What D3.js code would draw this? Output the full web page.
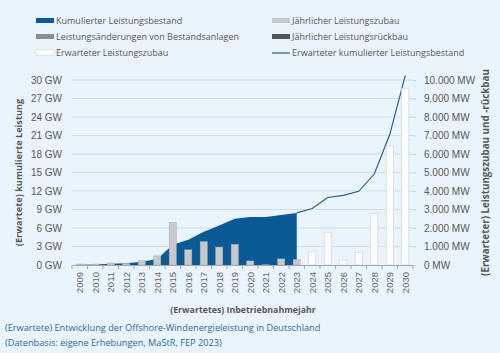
<!DOCTYPE html>
<html>
<head>
<meta charset="utf-8">
<script src="https://cdn.jsdelivr.net/npm/d3@7"></script>
<style>
  body { margin: 0; background: #e9f4fc; }
  svg { display: block; font-family: "Open Sans", "Noto Sans", sans-serif; }
</style>
</head>
<body>
<svg class="svg"></svg>
<script>
// years on the x axis
const years = d3.range(2009, 2031).map(String);

// cumulative stock (GW), 2009..2023
const cumulative = [0.03, 0.08, 0.19, 0.28, 0.52, 0.99, 3.28, 4.1, 5.4, 6.4, 7.5, 7.77, 7.8, 8.1, 8.45];
// expected cumulative stock (GW), 2023..2030
const expectedYears = ["2023", "2024", "2025", "2026", "2027", "2028", "2029", "2030"];
const expectedCumulative = [8.45, 9.15, 10.95, 11.3, 11.95, 14.75, 21.15, 30.7];

// yearly additions (MW), 2009..2023
const annualAdd = [50, 50, 110, 80, 230, 490, 2300, 820, 1260, 970, 1120, 220, 10, 330, 290];
// expected yearly additions (MW), 2024..2030
const expectedAdd = [720, 1770, 270, 670, 2790, 6430, 9550];

const leftTicks = d3.range(0, 31, 3);
const rightTicks = d3.range(0, 10001, 1000);

const width = 500, height = 353;
const margin = { top: 80, right: 87, bottom: 88, left: 72 };

const svg = d3.select(".svg").attr("width", width).attr("height", height);

const x = d3.scaleBand().domain(years).range([margin.left, width - margin.right]).paddingInner(0).paddingOuter(0);
const yL = d3.scaleLinear().domain([0, 30]).range([height - margin.bottom, margin.top]);
const yR = d3.scaleLinear().domain([0, 10000]).range([height - margin.bottom, margin.top]);

const fmtMW = d => d3.format(",")(d).replace(/,/g, ".") + " MW";

// gridlines
svg.append("g")
  .selectAll("line")
  .data(leftTicks.slice(1))
  .join("line")
  .attr("x1", margin.left).attr("x2", width - margin.right)
  .attr("y1", d => yL(d)).attr("y2", d => yL(d))
  .attr("stroke", "#d4dde4").attr("stroke-width", 1);

// cumulative area
const histYears = years.slice(0, cumulative.length);
const area = d3.area()
  .x((d, i) => x(histYears[i]) + x.bandwidth() / 2)
  .y0(yL(0))
  .y1(d => yL(d));
svg.append("path")
  .datum(cumulative)
  .attr("d", area)
  .attr("fill", "#0b5a96");

// expected cumulative line
const line = d3.line()
  .x((d, i) => x(expectedYears[i]) + x.bandwidth() / 2)
  .y(d => yL(d));
svg.append("path")
  .datum(expectedCumulative)
  .attr("d", line)
  .attr("fill", "none")
  .attr("stroke", "#2b5f8e")
  .attr("stroke-width", 1.2);

const barW = x.bandwidth() * 0.46;

// yearly additions
svg.append("g")
  .selectAll("rect")
  .data(annualAdd)
  .join("rect")
  .attr("x", (d, i) => x(years[i]) + (x.bandwidth() - barW) / 2)
  .attr("width", barW)
  .attr("y", d => yR(d))
  .attr("height", d => yR(0) - yR(d))
  .attr("fill", "#c7c9cb")
  .attr("stroke", "#a9abad")
  .attr("stroke-width", 0.5);

// expected additions
const expYears = years.slice(annualAdd.length);
svg.append("g")
  .selectAll("rect")
  .data(expectedAdd)
  .join("rect")
  .attr("x", (d, i) => x(expYears[i]) + (x.bandwidth() - barW) / 2)
  .attr("width", barW)
  .attr("y", d => yR(d))
  .attr("height", d => yR(0) - yR(d))
  .attr("fill", "#ffffff")
  .attr("stroke", "#d0d4d8")
  .attr("stroke-width", 0.7);

// x axis
const xAxis = svg.append("g")
  .attr("transform", `translate(0,${yL(0)})`)
  .call(d3.axisBottom(x).tickSize(0).tickPadding(0));
xAxis.select(".domain").attr("stroke", "#a0a8b0");
xAxis.selectAll("text")
  .attr("transform", "rotate(-90)")
  .attr("text-anchor", "end")
  .attr("x", -7).attr("y", 0).attr("dy", "0.35em")
  .attr("fill", "#666").style("font-size", "9.5px");
svg.append("g")
  .selectAll("line")
  .data(years.concat(["end"]))
  .join("line")
  .attr("x1", (d, i) => margin.left + i * x.bandwidth())
  .attr("x2", (d, i) => margin.left + i * x.bandwidth())
  .attr("y1", yL(0)).attr("y2", yL(0) + 4)
  .attr("stroke", "#a0a8b0");

// left axis
const lAxis = svg.append("g")
  .attr("transform", `translate(${margin.left},0)`)
  .call(d3.axisLeft(yL).tickValues(leftTicks).tickSize(0).tickPadding(10).tickFormat(d => d + " GW"));
lAxis.select(".domain").remove();
lAxis.selectAll("text").attr("fill", "#595959").style("font-size", "10px");

// right axis
const rAxis = svg.append("g")
  .attr("transform", `translate(${width - margin.right},0)`)
  .call(d3.axisRight(yR).tickValues(rightTicks).tickSize(3).tickPadding(8).tickFormat(fmtMW));
rAxis.select(".domain").remove();
rAxis.selectAll("line").attr("stroke", "#c8d0d8");
rAxis.selectAll("text").attr("fill", "#595959").style("font-size", "10px");

// axis titles
svg.append("text")
  .attr("transform", `translate(22,${(yL(0) + yL(30)) / 2}) rotate(-90)`)
  .attr("text-anchor", "middle")
  .attr("fill", "#595959").style("font-size", "9.2px").style("font-weight", "bold")
  .text("(Erwartete) kumulierte Leistung");
svg.append("text")
  .attr("transform", `translate(489,${(yL(0) + yL(30)) / 2}) rotate(-90)`)
  .attr("text-anchor", "middle")
  .attr("fill", "#595959").style("font-size", "9.8px").style("font-weight", "bold")
  .text("(Erwarteter) Leistungszubau und -rückbau");
svg.append("text")
  .attr("x", 243).attr("y", 313)
  .attr("text-anchor", "middle")
  .attr("fill", "#595959").style("font-size", "8.8px").style("font-weight", "bold")
  .text("(Erwartetes) Inbetriebnahmejahr");

// legend
const legend = [
  { label: "Kumulierter Leistungsbestand", type: "rect", fill: "#0b5a96", stroke: "none", col: 0, row: 0 },
  { label: "Jährlicher Leistungszubau", type: "rect", fill: "#c7c9cb", stroke: "none", col: 1, row: 0 },
  { label: "Leistungsänderungen von Bestandsanlagen", type: "rect", fill: "#8c8f92", stroke: "none", col: 0, row: 1 },
  { label: "Jährlicher Leistungsrückbau", type: "rect", fill: "#55585b", stroke: "none", col: 1, row: 1 },
  { label: "Erwarteter Leistungszubau", type: "rect", fill: "#ffffff", stroke: "#d0d4d8", col: 0, row: 2 },
  { label: "Erwarteter kumulierter Leistungsbestand", type: "line", fill: "none", stroke: "#2b5f8e", col: 1, row: 2 }
];
const lg = svg.append("g")
  .selectAll("g")
  .data(legend)
  .join("g")
  .attr("transform", d => `translate(${d.col ? 272 : 36},${21 + d.row * 16})`);
lg.filter(d => d.type === "rect").append("rect")
  .attr("x", 0).attr("y", -3).attr("width", 18).attr("height", 5)
  .attr("fill", d => d.fill).attr("stroke", d => d.stroke).attr("stroke-width", 0.6);
lg.filter(d => d.type === "line").append("line")
  .attr("x1", 0).attr("x2", 18).attr("y1", 0).attr("y2", 0)
  .attr("stroke", d => d.stroke).attr("stroke-width", 1.2);
lg.append("text")
  .attr("x", 20).attr("y", 0).attr("dy", "0.35em")
  .attr("fill", "#595959").style("font-size", "9px")
  .text(d => d.label);

// caption
svg.append("text")
  .attr("x", 5).attr("y", 331)
  .attr("fill", "#2a6aa0").style("font-size", "9.2px")
  .text("(Erwartete) Entwicklung der Offshore-Windenergieleistung in Deutschland");
svg.append("text")
  .attr("x", 5).attr("y", 346)
  .attr("fill", "#2a6aa0").style("font-size", "9.2px")
  .text("(Datenbasis: eigene Erhebungen, MaStR, FEP 2023)");
</script>
</body>
</html>
